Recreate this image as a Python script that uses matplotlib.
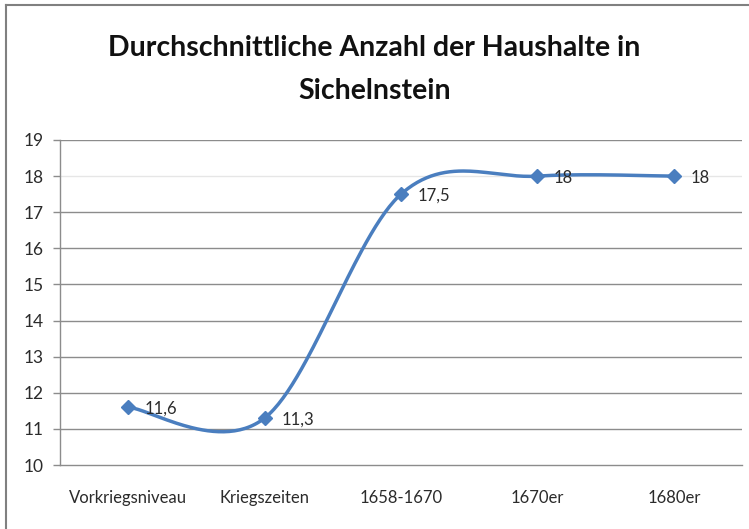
import numpy as np
import matplotlib
matplotlib.use('Agg')
import matplotlib.pyplot as plt
from matplotlib.lines import Line2D

categories = ['Vorkriegsniveau', 'Kriegszeiten', '1658-1670', '1670er', '1680er']
households = [11.6, 11.3, 17.5, 18, 18]
value_labels = ['11,6', '11,3', '17,5', '18', '18']
y_ticks = [10, 11, 12, 13, 14, 15, 16, 17, 18, 19]

plt.rcParams['font.family'] = ['Lato', 'DejaVu Sans']

LINE_BLUE = '#4A7EBF'
GRID = '#8C8C8C'
TEXT = '#2b2b2b'


# Excel style smoothed line: cubic bezier through the points,
# control points from neighbouring points (tension 1/6)
def smooth_curve(xs, ys, n=60):
    pts = np.column_stack([xs, ys]).astype(float)
    out = []
    for i in range(len(pts) - 1):
        p0 = pts[i - 1] if i > 0 else pts[i]
        p1 = pts[i]
        p2 = pts[i + 1]
        p3 = pts[i + 2] if i + 2 < len(pts) else pts[i + 1]
        c1 = p1 + (p2 - p0) / 6
        c2 = p2 - (p3 - p1) / 6
        t = np.linspace(0, 1, n)[:, None]
        seg = ((1 - t) ** 3) * p1 + 3 * ((1 - t) ** 2) * t * c1 \
            + 3 * (1 - t) * t ** 2 * c2 + t ** 3 * p2
        out.append(seg if i == 0 else seg[1:])
    out = np.vstack(out)
    return out[:, 0], out[:, 1]


fig = plt.figure(figsize=(7.49, 5.29), dpi=100)
ax = fig.add_axes([60 / 749, 1 - 465 / 529, 682 / 749, 325 / 529])

x = np.arange(len(categories))
sx, sy = smooth_curve(x, households)
ax.plot(sx, sy, color=LINE_BLUE, lw=2.5, solid_capstyle='round', zorder=3)
ax.plot(x, households, ls='none', marker='D', ms=7.5, color=LINE_BLUE, zorder=4)

for xi, yi, lab in zip(x, households, value_labels):
    ax.annotate(lab, (xi, yi), xytext=(12, -1), textcoords='offset points',
                ha='left', va='center', fontsize=12, color=TEXT, zorder=5)

ax.set_xlim(-0.5, len(categories) - 0.5)
ax.set_ylim(10, 19)
ax.set_yticks(y_ticks)
ax.set_xticks(x)
ax.set_xticklabels(categories)
ax.tick_params(axis='x', length=0, pad=18, labelsize=12, labelcolor=TEXT)
ax.tick_params(axis='y', length=5, width=1, color=GRID, pad=7, labelsize=12.5,
               labelcolor=TEXT)

for v in y_ticks[1:]:
    c = '#E6E6E6' if v == 18 else GRID
    ax.axhline(v, color=c, lw=1, zorder=1)

for side in ['top', 'right']:
    ax.spines[side].set_visible(False)
for side in ['left', 'bottom']:
    ax.spines[side].set_color(GRID)
    ax.spines[side].set_linewidth(1)

fig.text(0.5, 1 - 48 / 529, 'Durchschnittliche Anzahl der Haushalte in',
         ha='center', va='center', fontsize=20.5, fontweight='bold', color='#111111')
fig.text(0.5, 1 - 91 / 529, 'Sichelnstein',
         ha='center', va='center', fontsize=20.5, fontweight='bold', color='#111111')

# chart frame
fig.add_artist(Line2D([6 / 749, 1], [1 - 5 / 529, 1 - 5 / 529], color='#808080', lw=1.5,
                      transform=fig.transFigure))
fig.add_artist(Line2D([6 / 749, 6 / 749], [0, 1 - 5 / 529], color='#808080', lw=1.5,
                      transform=fig.transFigure))

fig.savefig('out.png', dpi=100)
